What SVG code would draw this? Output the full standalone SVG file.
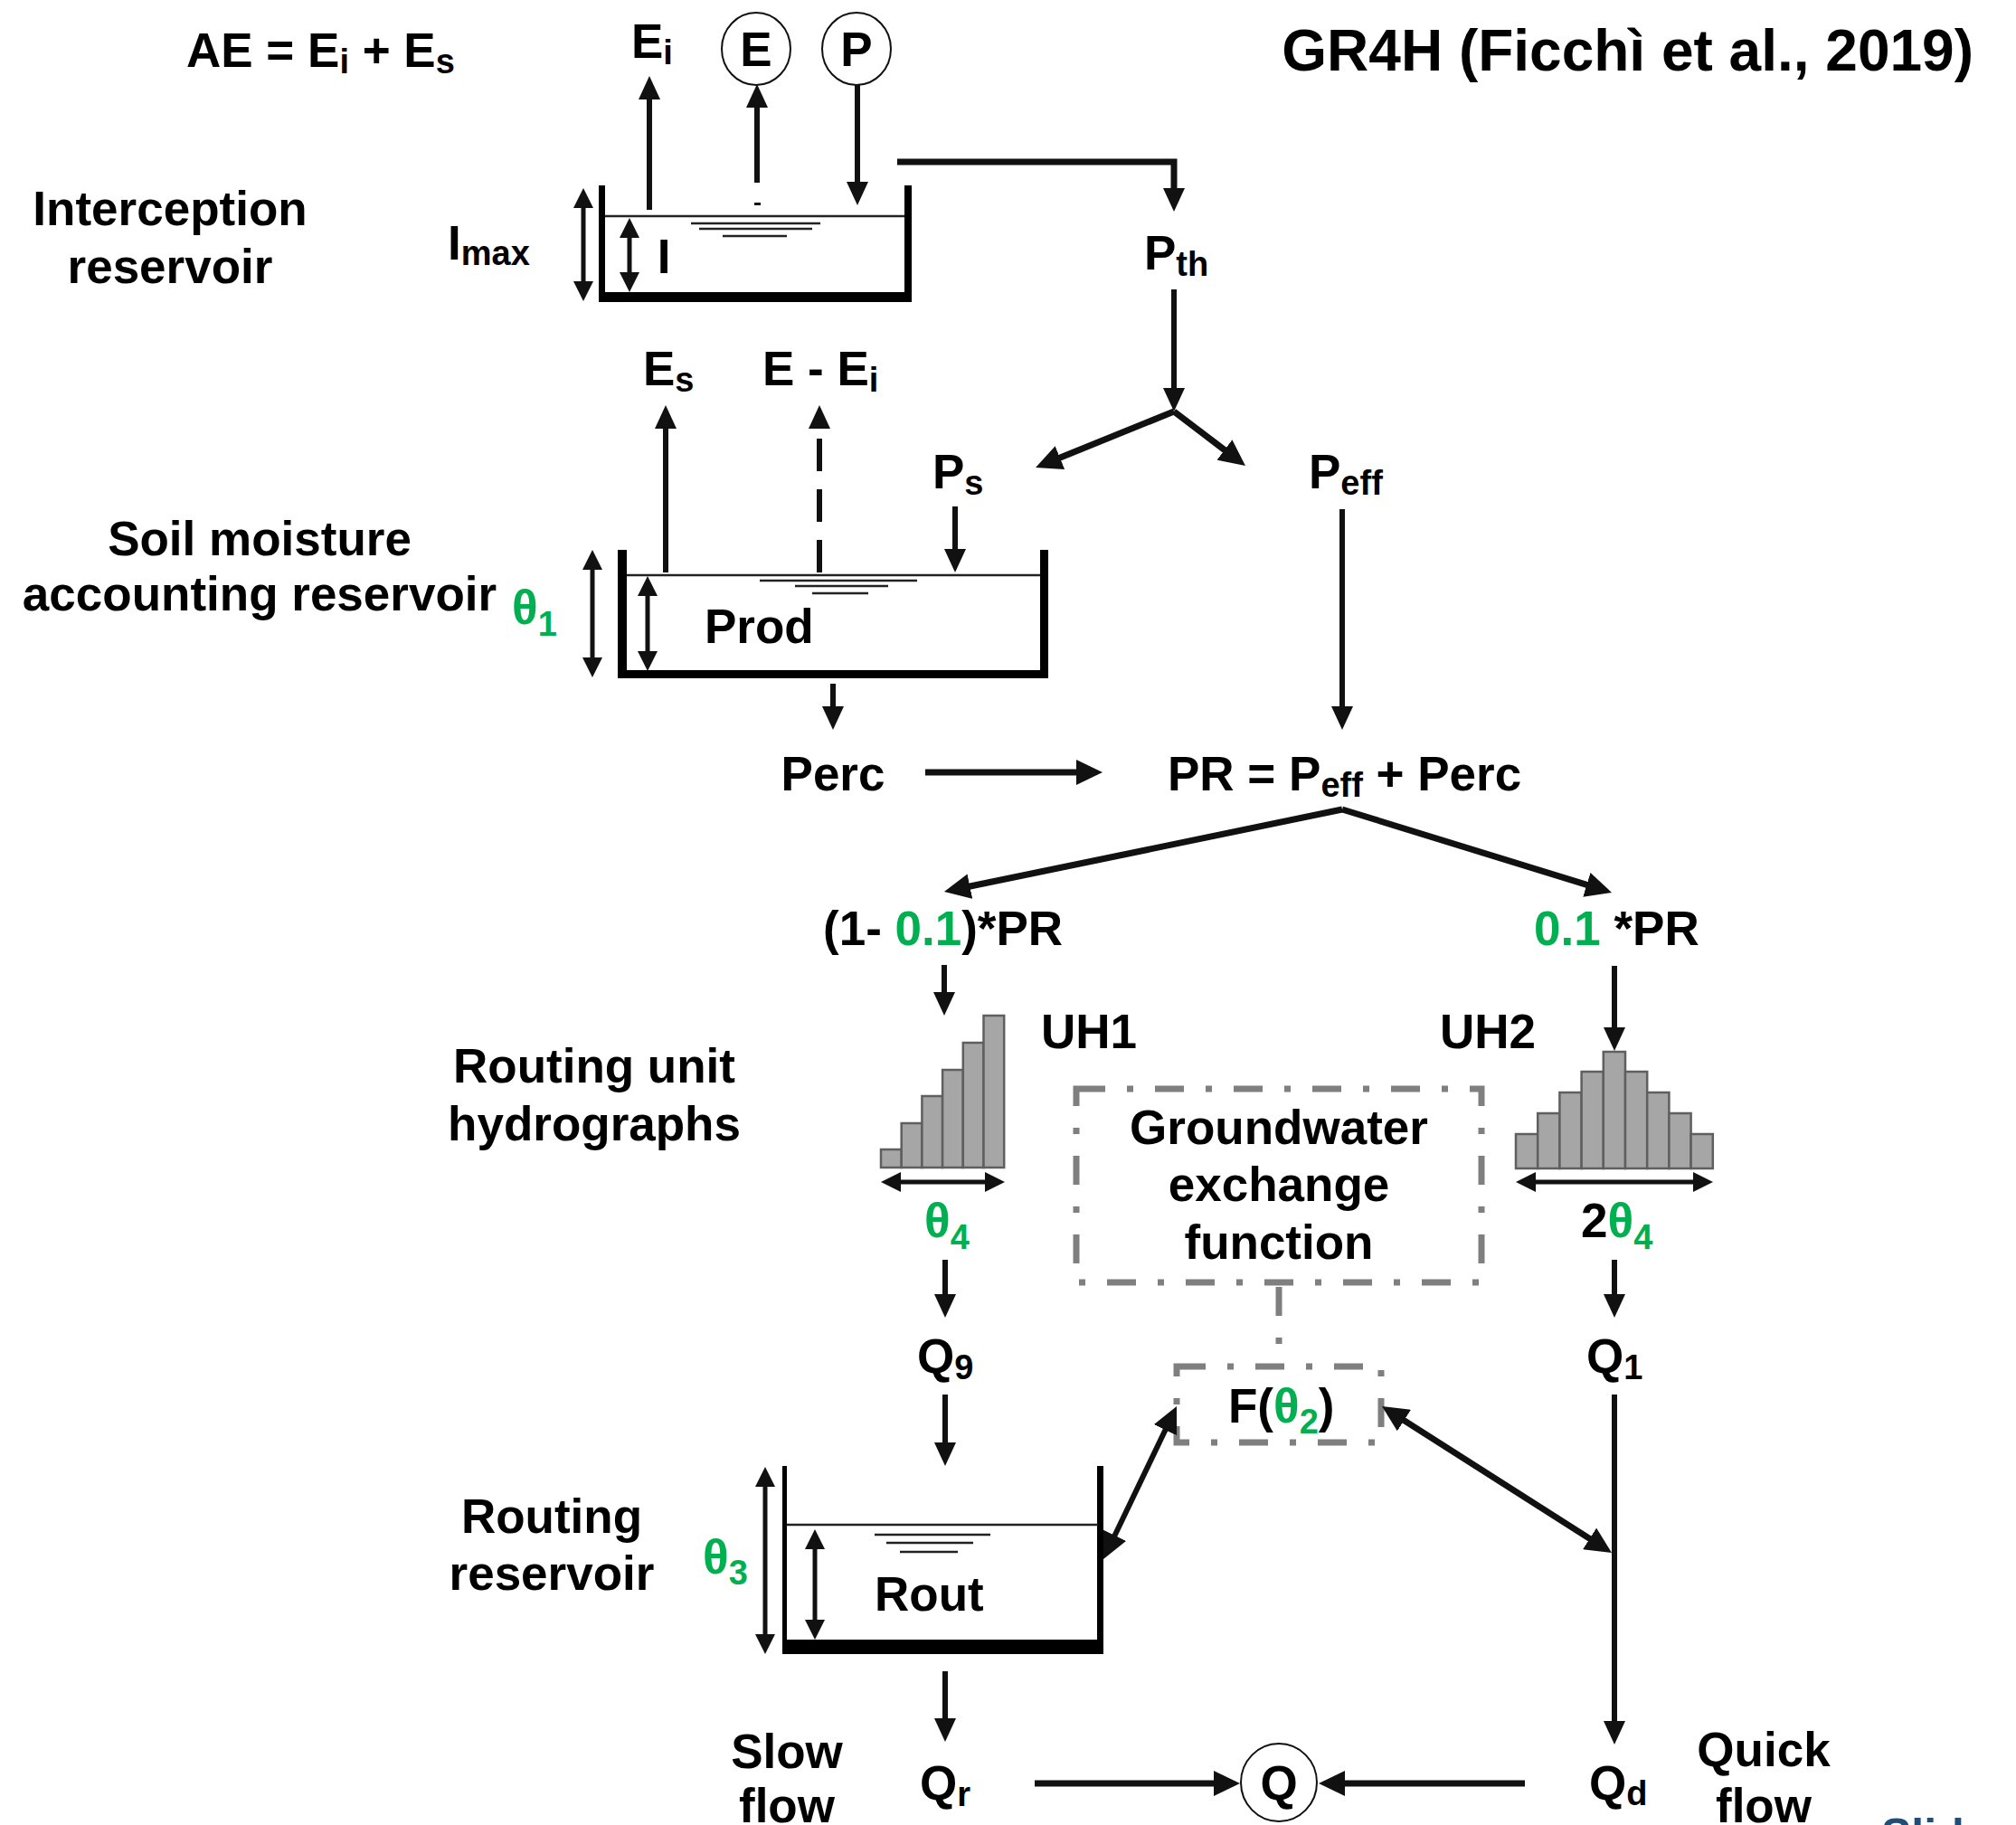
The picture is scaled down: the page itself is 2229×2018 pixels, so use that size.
<svg xmlns="http://www.w3.org/2000/svg" width="2229" height="2018" viewBox="0 0 2229 2018">
<defs>
<style>
.t{font-family:"Liberation Sans",Arial,"Noto Sans",sans-serif;font-weight:bold;font-size:53px;fill:#000}
.title{font-size:64px}
.sub{font-size:38px}
.g{fill:#00B050}
.ln{stroke:#111;stroke-width:6;fill:none}
.lnT{stroke:#111;stroke-width:7;fill:none}
.dbl{stroke:#111;stroke-width:5;fill:none}
.wall{fill:#000}
.water{stroke:#222;stroke-width:2.5}
.bar{fill:#A6A6A6;stroke:#5F5F5F;stroke-width:2.5}
.gw{fill:none;stroke:#7F7F7F;stroke-width:7;stroke-dasharray:32 24 7 24}
.circ{fill:#fff;stroke:#111;stroke-width:2}
</style>
<marker id="ah" markerUnits="userSpaceOnUse" markerWidth="27" markerHeight="24" refX="1" refY="12" orient="auto-start-reverse"><path d="M0,0 L26,12 L0,24 Z" fill="#111"/></marker>
<marker id="ahL" markerUnits="userSpaceOnUse" markerWidth="30" markerHeight="28" refX="1" refY="14" orient="auto-start-reverse"><path d="M0,0 L29,14 L0,28 Z" fill="#111"/></marker>
<marker id="ahs" markerUnits="userSpaceOnUse" markerWidth="23" markerHeight="22" refX="1" refY="11" orient="auto-start-reverse"><path d="M0,0 L22,11 L0,22 Z" fill="#111"/></marker>
</defs>
<rect width="2229" height="2018" fill="#fff"/>

<!-- Title and headline -->
<g id="title"><text class="t title" x="2182" y="78" text-anchor="end">GR4H (Ficchì et al., 2019)</text></g>
<g id="ae"><text class="t" x="206" y="74">AE = E<tspan class="sub" dy="7">i</tspan><tspan dy="-7"> + E</tspan><tspan class="sub" dy="7">s</tspan></text></g>

<!-- Interception reservoir -->
<g id="interception-label"><text class="t" x="188" y="249" text-anchor="middle">Interception</text><text class="t" x="188" y="313" text-anchor="middle">reservoir</text></g>
<g id="imax-label"><text class="t" x="495" y="287">I<tspan class="sub" dy="6">max</tspan></text></g>
<g id="interception-reservoir">
<rect class="wall" x="662" y="205" width="7" height="129"/>
<rect class="wall" x="1000" y="205" width="8" height="129"/>
<rect class="wall" x="662" y="323" width="346" height="11"/>
<line class="water" x1="669" y1="239" x2="1000" y2="239"/>
<line class="water" x1="764" y1="247" x2="907" y2="247"/>
<line class="water" x1="773" y1="253" x2="898" y2="253"/>
<line class="water" x1="799" y1="261" x2="870" y2="261"/>
<line class="dbl" x1="696" y1="262" x2="696" y2="302" marker-start="url(#ahs)" marker-end="url(#ahs)"/>
<text class="t" x="734" y="302" text-anchor="middle">I</text>
</g>
<g id="imax-arrow"><line class="dbl" x1="645" y1="229" x2="645" y2="312" marker-start="url(#ahs)" marker-end="url(#ahs)"/></g>

<g id="ei-top"><text class="t" x="698" y="64">E<tspan class="sub" dy="7">i</tspan></text></g>
<g id="node-E"><ellipse class="circ" cx="836" cy="54" rx="38" ry="40"/><text class="t" x="836" y="73" text-anchor="middle">E</text></g>
<g id="node-P"><ellipse class="circ" cx="947" cy="54" rx="38" ry="40"/><text class="t" x="947" y="73" text-anchor="middle">P</text></g>
<g id="pth"><text class="t" x="1265" y="298">P<tspan class="sub" dy="7">th</tspan></text></g>

<!-- Soil moisture accounting reservoir -->
<g id="soil-label"><text class="t" x="287" y="614" text-anchor="middle">Soil moisture</text><text class="t" x="287" y="675" text-anchor="middle">accounting reservoir</text>
<text class="t g" x="566" y="690">θ<tspan class="sub" dy="13">1</tspan></text></g>
<g id="es"><text class="t" x="711" y="426">E<tspan class="sub" dy="7">s</tspan></text></g>
<g id="e-ei"><text class="t" x="843" y="426">E - E<tspan class="sub" dy="7">i</tspan></text></g>
<g id="ps"><text class="t" x="1031" y="540">P<tspan class="sub" dy="7">s</tspan></text></g>
<g id="peff"><text class="t" x="1447" y="540">P<tspan class="sub" dy="7">eff</tspan></text></g>
<g id="prod-reservoir">
<rect class="wall" x="683" y="608" width="10" height="142"/>
<rect class="wall" x="1150" y="608" width="9" height="142"/>
<rect class="wall" x="683" y="741" width="476" height="9"/>
<line class="water" x1="693" y1="636" x2="1150" y2="636"/>
<line class="water" x1="840" y1="642" x2="1014" y2="642"/>
<line class="water" x1="879" y1="648" x2="982" y2="648"/>
<line class="water" x1="898" y1="656" x2="960" y2="656"/>
<line class="dbl" x1="716" y1="658" x2="716" y2="721" marker-start="url(#ahs)" marker-end="url(#ahs)"/>
<text class="t" x="779" y="711">Prod</text>
</g>
<g id="soil-arrow"><line class="dbl" x1="655" y1="629" x2="655" y2="728" marker-start="url(#ahs)" marker-end="url(#ahs)"/></g>

<g id="perc"><text class="t" x="921" y="874" text-anchor="middle">Perc</text></g>
<g id="pr"><text class="t" x="1291" y="874">PR = P<tspan class="sub" dy="7">eff</tspan><tspan dy="-7"> + Perc</tspan></text></g>
<g id="pr-left"><text class="t" x="910" y="1045">(1- <tspan class="g">0.1</tspan>)*PR</text></g>
<g id="pr-right"><text class="t" x="1696" y="1045"><tspan class="g">0.1</tspan> *PR</text></g>

<!-- Unit hydrographs -->
<g id="routing-uh-label"><text class="t" x="657" y="1197" text-anchor="middle">Routing unit</text><text class="t" x="657" y="1261" text-anchor="middle">hydrographs</text></g>
<g id="uh1">
<text class="t" x="1151" y="1159">UH1</text>
<rect class="bar" x="974" y="1271" width="22.7" height="20"/>
<rect class="bar" x="996.7" y="1242" width="22.7" height="49"/>
<rect class="bar" x="1019.4" y="1212" width="22.7" height="79"/>
<rect class="bar" x="1042.1" y="1183" width="22.7" height="108"/>
<rect class="bar" x="1064.8" y="1153" width="22.7" height="138"/>
<rect class="bar" x="1087.5" y="1123" width="22.7" height="168"/>
<line class="dbl" x1="995" y1="1307" x2="1090" y2="1307" stroke-width="6" marker-start="url(#ahs)" marker-end="url(#ahs)"/>
<text class="t g" x="1022" y="1368">θ<tspan class="sub" dy="13">4</tspan></text>
</g>
<g id="uh2">
<text class="t" x="1592" y="1159">UH2</text>
<rect class="bar" x="1676" y="1254" width="24.2" height="38"/>
<rect class="bar" x="1700.2" y="1231" width="24.2" height="61"/>
<rect class="bar" x="1724.4" y="1208" width="24.2" height="84"/>
<rect class="bar" x="1748.6" y="1185" width="24.2" height="107"/>
<rect class="bar" x="1772.8" y="1163" width="24.2" height="129"/>
<rect class="bar" x="1797" y="1185" width="24.2" height="107"/>
<rect class="bar" x="1821.2" y="1208" width="24.2" height="84"/>
<rect class="bar" x="1845.4" y="1231" width="24.2" height="61"/>
<rect class="bar" x="1869.6" y="1254" width="24.2" height="38"/>
<line class="dbl" x1="1697" y1="1307" x2="1873" y2="1307" stroke-width="6" marker-start="url(#ahs)" marker-end="url(#ahs)"/>
<text class="t" x="1748" y="1368">2<tspan class="g">θ</tspan><tspan class="g sub" dy="13">4</tspan></text>
</g>

<!-- Groundwater exchange -->
<g id="groundwater">
<rect class="gw" x="1190" y="1204" width="448" height="214"/>
<text class="t" x="1414" y="1265" text-anchor="middle">Groundwater</text>
<text class="t" x="1414" y="1328" text-anchor="middle">exchange</text>
<text class="t" x="1414" y="1392" text-anchor="middle">function</text>
</g>
<g id="gw-link"><line class="gw" x1="1414" y1="1423" x2="1414" y2="1510"/></g>
<g id="f-theta2">
<rect class="gw" x="1301" y="1511" width="226" height="84"/>
<text class="t" x="1358" y="1573">F(<tspan class="g">θ</tspan><tspan class="g sub" dy="12">2</tspan><tspan dy="-12">)</tspan></text>
</g>

<g id="q9"><text class="t" x="1014" y="1518">Q<tspan class="sub" dy="7">9</tspan></text></g>
<g id="q1"><text class="t" x="1754" y="1518">Q<tspan class="sub" dy="7">1</tspan></text></g>

<!-- Routing reservoir -->
<g id="routing-label"><text class="t" x="610" y="1695" text-anchor="middle">Routing</text><text class="t" x="610" y="1758" text-anchor="middle">reservoir</text>
<text class="t g" x="777" y="1740">θ<tspan class="sub" dy="12">3</tspan></text></g>
<g id="rout-reservoir">
<rect class="wall" x="865" y="1621" width="5" height="208"/>
<rect class="wall" x="1213" y="1621" width="7" height="208"/>
<rect class="wall" x="865" y="1813" width="355" height="16"/>
<line class="water" x1="870" y1="1686" x2="1214" y2="1686" stroke-width="3"/>
<line class="water" x1="967" y1="1697" x2="1095" y2="1697" stroke-width="3"/>
<line class="water" x1="980" y1="1706" x2="1076" y2="1706" stroke-width="3"/>
<line class="water" x1="995" y1="1716" x2="1059" y2="1716" stroke-width="3"/>
<line class="dbl" x1="901" y1="1712" x2="901" y2="1792" marker-start="url(#ahs)" marker-end="url(#ahs)"/>
<text class="t" x="967" y="1781">Rout</text>
</g>
<g id="rout-arrow"><line class="dbl" x1="846" y1="1643" x2="846" y2="1808" marker-start="url(#ahs)" marker-end="url(#ahs)"/></g>

<g id="slow"><text class="t" x="870" y="1955" text-anchor="middle">Slow</text><text class="t" x="870" y="2015" text-anchor="middle">flow</text></g>
<g id="qr"><text class="t" x="1017" y="1990">Q<tspan class="sub" dy="7">r</tspan></text></g>
<g id="node-Q"><ellipse class="circ" cx="1414" cy="1971" rx="42" ry="43"/><text class="t" x="1414" y="1990" text-anchor="middle">Q</text></g>
<g id="qd"><text class="t" x="1757" y="1990">Q<tspan class="sub" dy="6">d</tspan></text></g>
<g id="quick"><text class="t" x="1950" y="1953" text-anchor="middle">Quick</text><text class="t" x="1950" y="2015" text-anchor="middle">flow</text></g>
<g id="slide"><text x="2080" y="2046" font-family="Liberation Sans, Arial, sans-serif" font-weight="bold" font-size="50" fill="#1F4E79">Slide</text></g>

<!-- Connectors -->
<g id="connectors">
<line class="ln" x1="718" y1="232" x2="718" y2="109" marker-end="url(#ah)"/>
<line class="ln" x1="837" y1="202" x2="837" y2="118" marker-end="url(#ah)"/>
<rect x="834" y="224" width="7" height="3" fill="#111"/>
<line class="ln" x1="948" y1="94" x2="948" y2="202" marker-end="url(#ah)"/>
<path class="lnT" d="M992,179 H1298 V209" marker-end="url(#ah)"/>
<line class="ln" x1="1298" y1="320" x2="1298" y2="430" marker-end="url(#ah)"/>
<line class="lnT" x1="1298" y1="455" x2="1171" y2="506.5" marker-end="url(#ahL)"/>
<line class="lnT" x1="1298" y1="455" x2="1354.7" y2="498.1" marker-end="url(#ahL)"/>
<line class="ln" x1="736" y1="633" x2="736" y2="473" marker-end="url(#ah)"/>
<line class="ln" x1="906" y1="633" x2="906" y2="473" stroke-dasharray="36 20" marker-end="url(#ah)"/>
<line class="ln" x1="1056" y1="560" x2="1056" y2="608" marker-end="url(#ah)"/>
<line class="ln" x1="1484" y1="563" x2="1484" y2="782" marker-end="url(#ah)"/>
<line class="ln" x1="921" y1="756" x2="921" y2="782" marker-end="url(#ah)"/>
<line class="lnT" x1="1023" y1="854" x2="1191" y2="854" marker-end="url(#ahL)"/>
<line class="lnT" x1="1484" y1="895" x2="1071.4" y2="980.3" marker-end="url(#ahL)"/>
<line class="lnT" x1="1484" y1="895" x2="1755.3" y2="978.7" marker-end="url(#ahL)"/>
<line class="ln" x1="1044" y1="1067" x2="1044" y2="1098" marker-end="url(#ah)"/>
<line class="ln" x1="1785" y1="1068" x2="1785" y2="1137" marker-end="url(#ah)"/>
<line class="ln" x1="1045" y1="1393" x2="1045" y2="1432" marker-end="url(#ah)"/>
<line class="ln" x1="1785" y1="1393" x2="1785" y2="1432" marker-end="url(#ah)"/>
<line class="ln" x1="1045" y1="1542" x2="1045" y2="1596" marker-end="url(#ah)"/>
<line class="ln" x1="1785" y1="1542" x2="1785" y2="1904" marker-end="url(#ah)"/>
<line class="ln" x1="1045" y1="1848" x2="1045" y2="1901" marker-end="url(#ah)"/>
<line class="lnT" x1="1144" y1="1972" x2="1343" y2="1972" marker-end="url(#ahL)"/>
<line class="lnT" x1="1686" y1="1972" x2="1486" y2="1972" marker-end="url(#ahL)"/>
<line class="ln" x1="1232.1" y1="1698.7" x2="1288.9" y2="1580.3" marker-start="url(#ahL)" marker-end="url(#ahL)"/>
<line class="lnT" x1="1551.6" y1="1570.1" x2="1758.4" y2="1701.9" marker-start="url(#ahL)" marker-end="url(#ahL)"/>
</g>
</svg>
